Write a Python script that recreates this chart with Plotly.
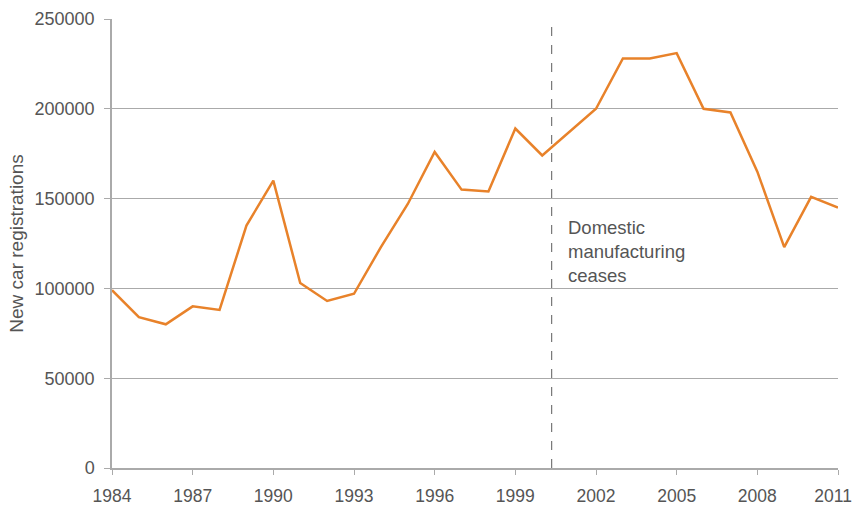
import plotly.graph_objects as go

years = list(range(1984, 2012))
registrations = [99000, 84000, 80000, 90000, 88000, 135000, 160000, 103000, 93000, 97000,
                 123000, 147000, 176000, 155000, 154000, 189000, 174000, 187000, 200000, 228000,
                 228000, 231000, 200000, 198000, 165000, 123000, 151000, 145000]
y_ticks = [0, 50000, 100000, 150000, 200000, 250000]
x_ticks = list(range(1984, 2012, 3))
x_tick_labels = ["1984", "1987", "1990", "1993", "1996", "1999", "2002", "2005", "2008", "2011"]
cease_year = 2000.35
annotation_text = "Domestic<br>manufacturing<br>ceases"

# keep the last tick label inside the page (pad it so its centre shifts left a little)
x_tick_text = x_tick_labels[:-1] + [x_tick_labels[-1] + "\u00a0\u00a0"]

fig = go.Figure()
fig.add_trace(go.Scatter(x=years, y=registrations, mode="lines",
                         line=dict(color="#E8822A", width=2.5), showlegend=False,
                         cliponaxis=False))
fig.add_shape(type="line", x0=cease_year, x1=cease_year, y0=0, y1=250000,
              xref="x", yref="y", line=dict(color="#777777", width=1.2, dash="dash"))
fig.add_annotation(x=cease_year, y=150000, xref="x", yref="y", text=annotation_text,
                   showarrow=False, xanchor="left", yanchor="top", xshift=14, yshift=-16,
                   align="left", font=dict(size=18.5, color="#555555"))

fig.update_layout(
    width=855, height=514,
    margin=dict(l=112, r=17, t=19, b=46),
    plot_bgcolor="white", paper_bgcolor="white",
    font=dict(family="Liberation Sans, Arial, sans-serif", size=18, color="#555555"),
)
fig.update_xaxes(range=[1984, 2011], tickvals=x_ticks, ticktext=x_tick_text,
                 showgrid=False, showline=True,
                 linecolor="#aaaaaa", linewidth=1.5, ticks="outside", ticklen=5,
                 tickcolor="#aaaaaa", zeroline=False, tickfont=dict(size=17.5),
                 ticklabelstandoff=6, ticklabeloverflow="allow", automargin=False)
fig.update_yaxes(range=[0, 250000], tickvals=y_ticks, showgrid=True, gridcolor="#aaaaaa",
                 gridwidth=1.2, showline=True, linecolor="#aaaaaa", linewidth=1.5,
                 ticks="outside", ticklen=6, tickcolor="#aaaaaa", zeroline=False,
                 tickfont=dict(size=18), automargin=False, ticklabelstandoff=6,
                 title=dict(text="New car registrations", standoff=6, font=dict(size=19)),
                 tickformat="d")
fig.write_html("out.html", config={"displayModeBar": False},
               post_script="document.body.style.margin='0';")
